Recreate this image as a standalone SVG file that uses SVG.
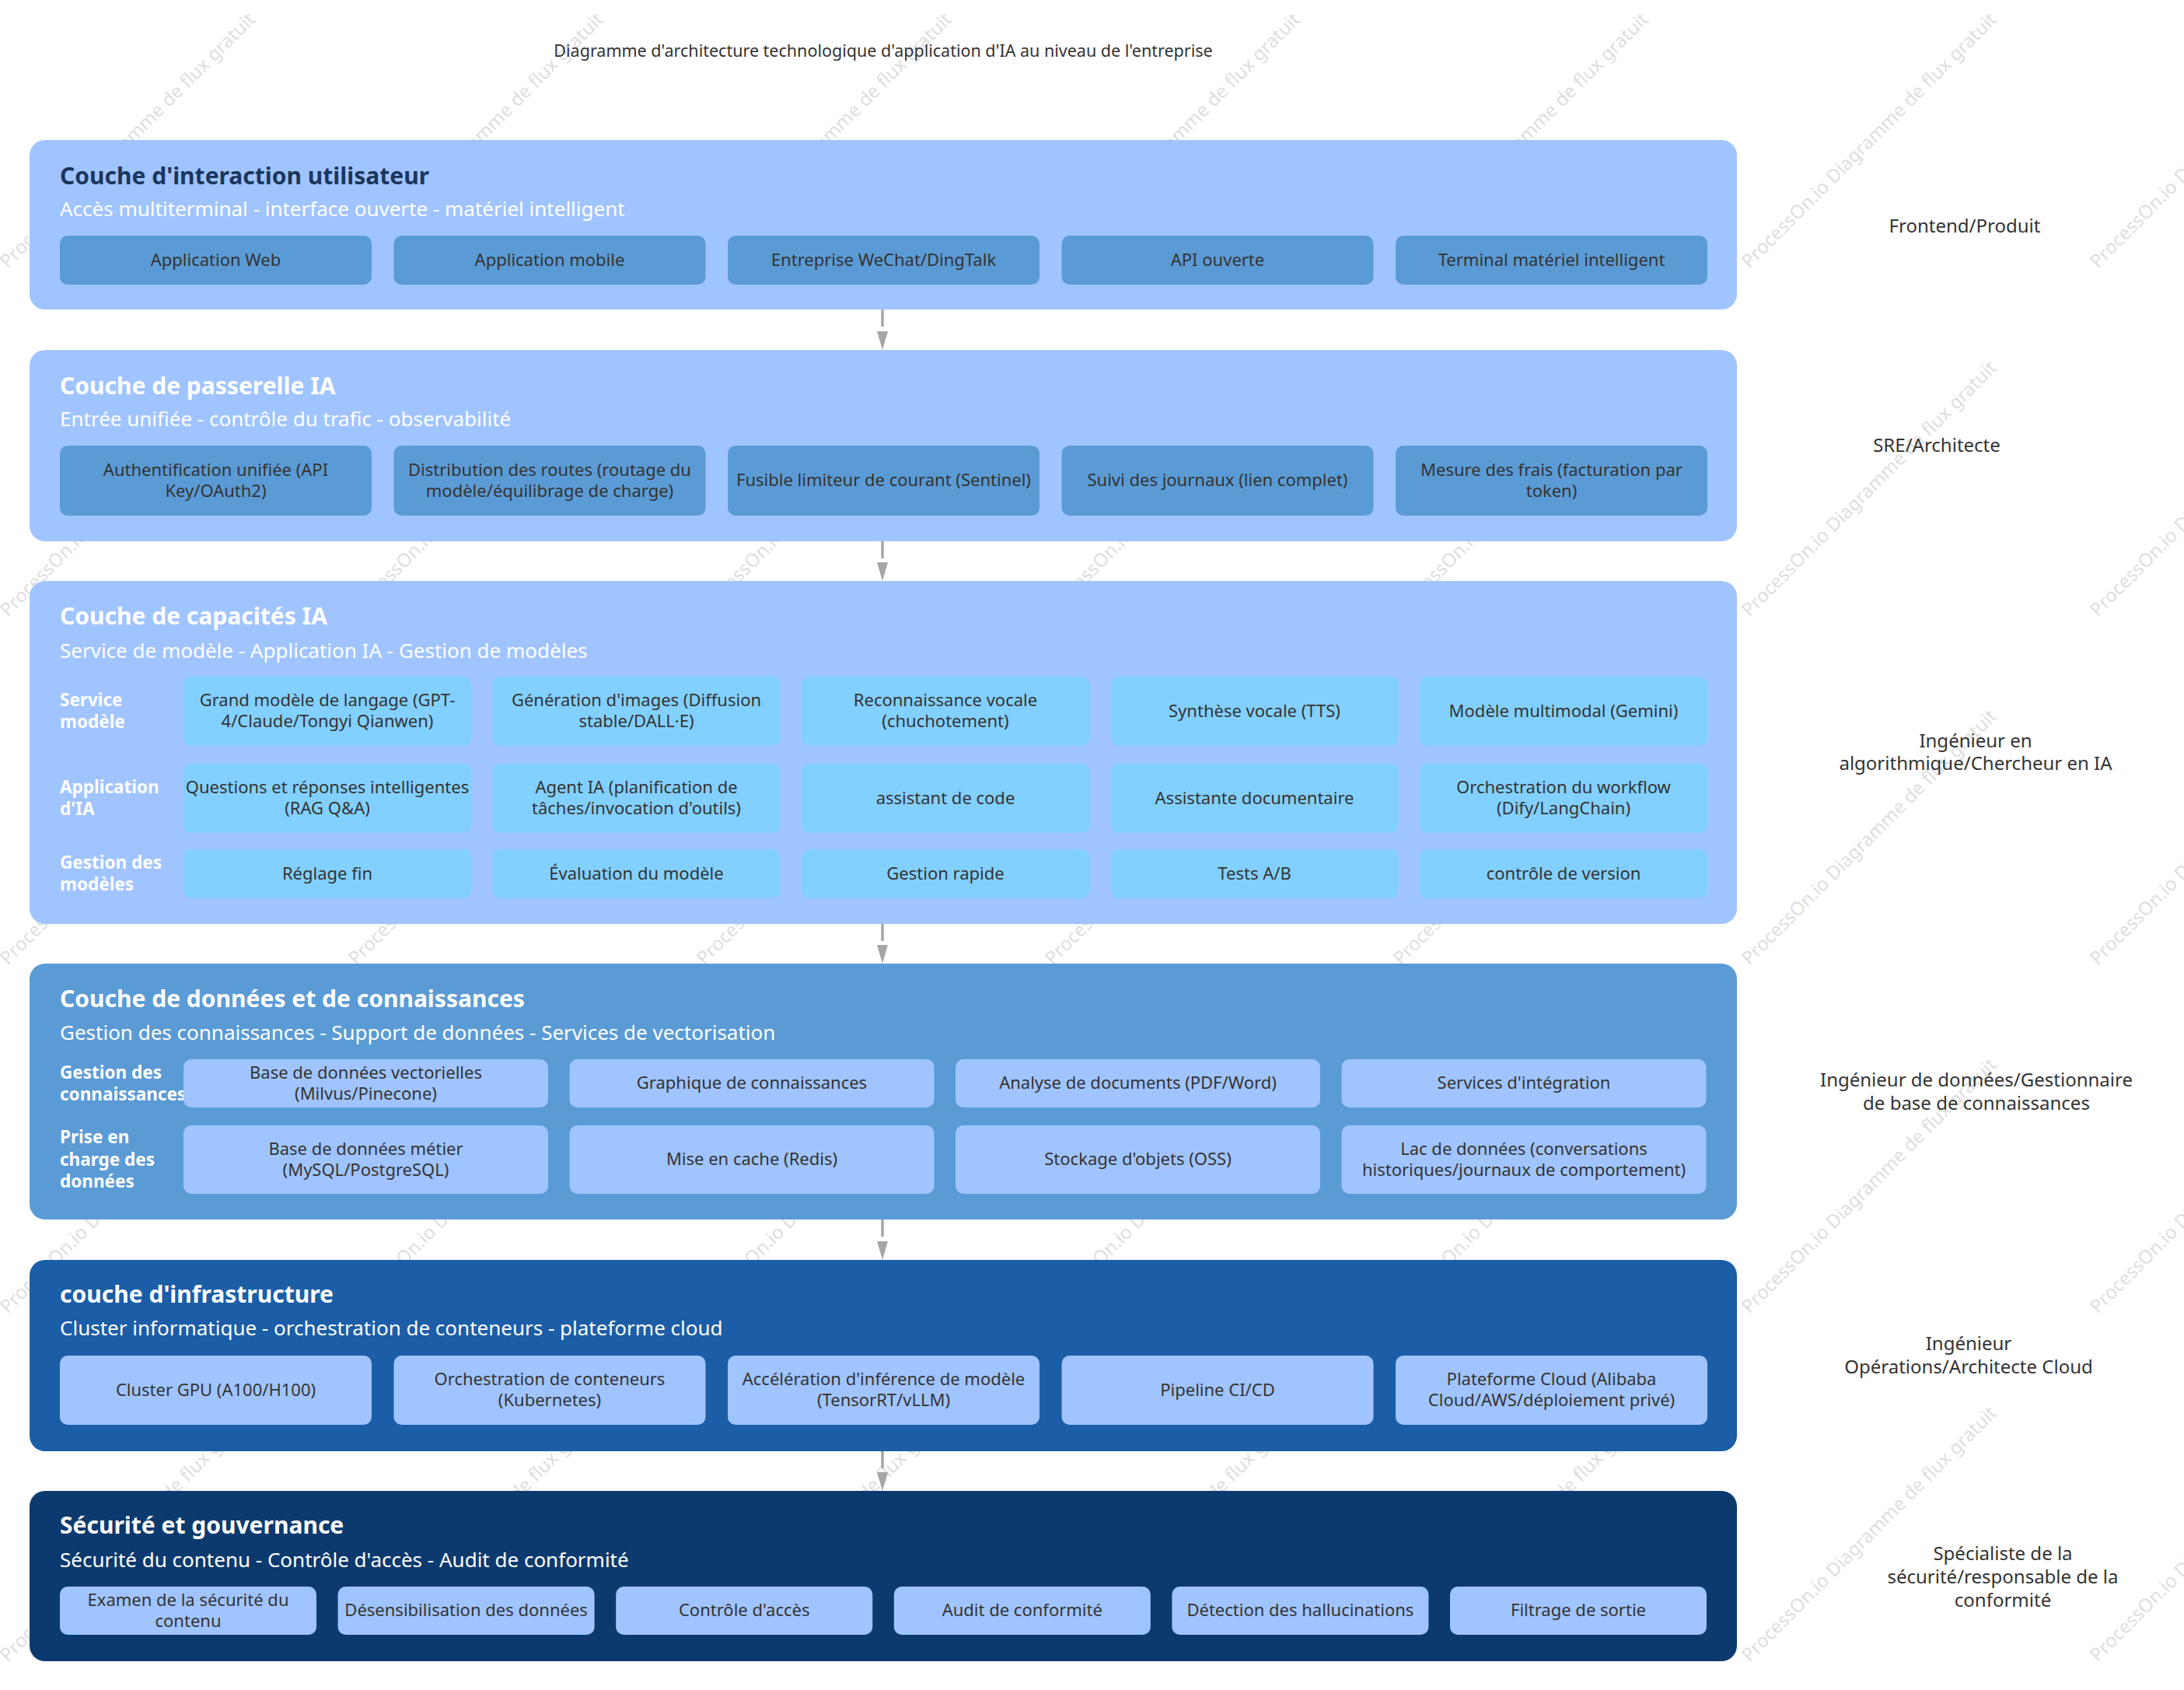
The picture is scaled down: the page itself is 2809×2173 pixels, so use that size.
<svg xmlns="http://www.w3.org/2000/svg" width="2809" height="2173" viewBox="0 0 2809 2173">
<style>
text{font-family:"Noto Sans","Open Sans","DejaVu Sans",sans-serif}
.wm{font-size:24px;fill:#dedede}
.ttl{font-size:21.5px;fill:#333;text-anchor:middle}
.lt{font-size:30px;font-weight:700;fill:#fff}
.ls{font-size:26px;fill:#fff}
.bt{font-size:22px;fill:#333;text-anchor:middle}
.rl{font-size:22.5px;font-weight:700;fill:#fff}
.role{font-size:24px;fill:#333;text-anchor:middle}
.L1{fill:#a0c4ff}
.L4{fill:#5b9bd5}
.L5{fill:#1b5ea7}
.L6{fill:#0d3a6e}
.bD{fill:#5b9bd5}
.bC{fill:#82d0ff}
.bL{fill:#a0c4ff}
.conn{stroke:#a6a6a6;stroke-width:3.5;fill:none}
</style>
<defs>
<marker id="ah" viewBox="0 -7 24 14" refX="0" refY="0" markerWidth="24" markerHeight="14" markerUnits="userSpaceOnUse" orient="auto">
<path d="M0,-7 L24,0 L0,7 z" fill="#a6a6a6"/>
</marker>
</defs>
<rect width="2809" height="2173" fill="#fff"/>
<g id="watermarks">
<text class="wm" transform="translate(10,346) rotate(-45)">ProcessOn.io Diagramme de flux gratuit</text>
<text class="wm" transform="translate(458,346) rotate(-45)">ProcessOn.io Diagramme de flux gratuit</text>
<text class="wm" transform="translate(906,346) rotate(-45)">ProcessOn.io Diagramme de flux gratuit</text>
<text class="wm" transform="translate(1354,346) rotate(-45)">ProcessOn.io Diagramme de flux gratuit</text>
<text class="wm" transform="translate(1802,346) rotate(-45)">ProcessOn.io Diagramme de flux gratuit</text>
<text class="wm" transform="translate(2250,346) rotate(-45)">ProcessOn.io Diagramme de flux gratuit</text>
<text class="wm" transform="translate(2698,346) rotate(-45)">ProcessOn.io Diagramme de flux gratuit</text>
<text class="wm" transform="translate(10,794) rotate(-45)">ProcessOn.io Diagramme de flux gratuit</text>
<text class="wm" transform="translate(458,794) rotate(-45)">ProcessOn.io Diagramme de flux gratuit</text>
<text class="wm" transform="translate(906,794) rotate(-45)">ProcessOn.io Diagramme de flux gratuit</text>
<text class="wm" transform="translate(1354,794) rotate(-45)">ProcessOn.io Diagramme de flux gratuit</text>
<text class="wm" transform="translate(1802,794) rotate(-45)">ProcessOn.io Diagramme de flux gratuit</text>
<text class="wm" transform="translate(2250,794) rotate(-45)">ProcessOn.io Diagramme de flux gratuit</text>
<text class="wm" transform="translate(2698,794) rotate(-45)">ProcessOn.io Diagramme de flux gratuit</text>
<text class="wm" transform="translate(10,1242) rotate(-45)">ProcessOn.io Diagramme de flux gratuit</text>
<text class="wm" transform="translate(458,1242) rotate(-45)">ProcessOn.io Diagramme de flux gratuit</text>
<text class="wm" transform="translate(906,1242) rotate(-45)">ProcessOn.io Diagramme de flux gratuit</text>
<text class="wm" transform="translate(1354,1242) rotate(-45)">ProcessOn.io Diagramme de flux gratuit</text>
<text class="wm" transform="translate(1802,1242) rotate(-45)">ProcessOn.io Diagramme de flux gratuit</text>
<text class="wm" transform="translate(2250,1242) rotate(-45)">ProcessOn.io Diagramme de flux gratuit</text>
<text class="wm" transform="translate(2698,1242) rotate(-45)">ProcessOn.io Diagramme de flux gratuit</text>
<text class="wm" transform="translate(10,1690) rotate(-45)">ProcessOn.io Diagramme de flux gratuit</text>
<text class="wm" transform="translate(458,1690) rotate(-45)">ProcessOn.io Diagramme de flux gratuit</text>
<text class="wm" transform="translate(906,1690) rotate(-45)">ProcessOn.io Diagramme de flux gratuit</text>
<text class="wm" transform="translate(1354,1690) rotate(-45)">ProcessOn.io Diagramme de flux gratuit</text>
<text class="wm" transform="translate(1802,1690) rotate(-45)">ProcessOn.io Diagramme de flux gratuit</text>
<text class="wm" transform="translate(2250,1690) rotate(-45)">ProcessOn.io Diagramme de flux gratuit</text>
<text class="wm" transform="translate(2698,1690) rotate(-45)">ProcessOn.io Diagramme de flux gratuit</text>
<text class="wm" transform="translate(10,2138) rotate(-45)">ProcessOn.io Diagramme de flux gratuit</text>
<text class="wm" transform="translate(458,2138) rotate(-45)">ProcessOn.io Diagramme de flux gratuit</text>
<text class="wm" transform="translate(906,2138) rotate(-45)">ProcessOn.io Diagramme de flux gratuit</text>
<text class="wm" transform="translate(1354,2138) rotate(-45)">ProcessOn.io Diagramme de flux gratuit</text>
<text class="wm" transform="translate(1802,2138) rotate(-45)">ProcessOn.io Diagramme de flux gratuit</text>
<text class="wm" transform="translate(2250,2138) rotate(-45)">ProcessOn.io Diagramme de flux gratuit</text>
<text class="wm" transform="translate(2698,2138) rotate(-45)">ProcessOn.io Diagramme de flux gratuit</text>
</g>
<text id="title" class="ttl" x="1136" y="73">Diagramme d'architecture technologique d'application d'IA au niveau de l'entreprise</text>

<g id="connectors">
<line class="conn" x1="1135" y1="398" x2="1135" y2="426" stroke-dasharray="22 100" marker-end="url(#ah)"/>
<line class="conn" x1="1135" y1="696" x2="1135" y2="723" stroke-dasharray="22 100" marker-end="url(#ah)"/>
<line class="conn" x1="1135" y1="1188" x2="1135" y2="1215" stroke-dasharray="22 100" marker-end="url(#ah)"/>
<line class="conn" x1="1135" y1="1568" x2="1135" y2="1596" stroke-dasharray="22 100" marker-end="url(#ah)"/>
<line class="conn" x1="1135" y1="1866" x2="1135" y2="1893" stroke-dasharray="22 100" marker-end="url(#ah)"/>
</g>

<g id="layer-user">
<rect class="L1" x="38" y="180" width="2196" height="218" rx="20"/>
<text class="lt" x="77" y="237" style="fill:#1b365c">Couche d'interaction utilisateur</text>
<text class="ls" x="77" y="278">Accès multiterminal - interface ouverte - matériel intelligent</text>
<g id="u1"><rect class="bD" x="77" y="303" width="401" height="63" rx="10"/><text class="bt" x="277.5" y="342">Application Web</text></g>
<g id="u2"><rect class="bD" x="506.5" y="303" width="401" height="63" rx="10"/><text class="bt" x="707" y="342">Application mobile</text></g>
<g id="u3"><rect class="bD" x="936" y="303" width="401" height="63" rx="10"/><text class="bt" x="1136.5" y="342">Entreprise WeChat/DingTalk</text></g>
<g id="u4"><rect class="bD" x="1365.5" y="303" width="401" height="63" rx="10"/><text class="bt" x="1566" y="342">API ouverte</text></g>
<g id="u5"><rect class="bD" x="1795" y="303" width="401" height="63" rx="10"/><text class="bt" x="1995.5" y="342">Terminal matériel intelligent</text></g>
</g>

<g id="layer-gateway">
<rect class="L1" x="38" y="450" width="2196" height="246" rx="20"/>
<text class="lt" x="77" y="507">Couche de passerelle IA</text>
<text class="ls" x="77" y="548">Entrée unifiée - contrôle du trafic - observabilité</text>
<g id="g1"><rect class="bD" x="77" y="573" width="401" height="90" rx="10"/><text class="bt" x="277.5" y="611.5">Authentification unifiée (API<tspan x="277.5" y="638.5">Key/OAuth2)</tspan></text></g>
<g id="g2"><rect class="bD" x="506.5" y="573" width="401" height="90" rx="10"/><text class="bt" x="707" y="611.5">Distribution des routes (routage du<tspan x="707" y="638.5">modèle/équilibrage de charge)</tspan></text></g>
<g id="g3"><rect class="bD" x="936" y="573" width="401" height="90" rx="10"/><text class="bt" x="1136.5" y="625">Fusible limiteur de courant (Sentinel)</text></g>
<g id="g4"><rect class="bD" x="1365.5" y="573" width="401" height="90" rx="10"/><text class="bt" x="1566" y="625">Suivi des journaux (lien complet)</text></g>
<g id="g5"><rect class="bD" x="1795" y="573" width="401" height="90" rx="10"/><text class="bt" x="1995.5" y="611.5">Mesure des frais (facturation par<tspan x="1995.5" y="638.5">token)</tspan></text></g>
</g>

<g id="layer-ai">
<rect class="L1" x="38" y="747" width="2196" height="441" rx="20"/>
<text class="lt" x="77" y="803">Couche de capacités IA</text>
<text class="ls" x="77" y="846">Service de modèle - Application IA - Gestion de modèles</text>
<text class="rl" x="77" y="908">Service<tspan x="77" y="936">modèle</tspan></text>
<text class="rl" x="77" y="1020">Application<tspan x="77" y="1048">d'IA</tspan></text>
<text class="rl" x="77" y="1117">Gestion des<tspan x="77" y="1145">modèles</tspan></text>
<g id="a11"><rect class="bC" x="236" y="870" width="370" height="89" rx="10"/><text class="bt" x="421" y="908">Grand modèle de langage (GPT-<tspan x="421" y="935">4/Claude/Tongyi Qianwen)</tspan></text></g>
<g id="a12"><rect class="bC" x="633.5" y="870" width="370" height="89" rx="10"/><text class="bt" x="818.5" y="908">Génération d'images (Diffusion<tspan x="818.5" y="935">stable/DALL·E)</tspan></text></g>
<g id="a13"><rect class="bC" x="1031" y="870" width="370" height="89" rx="10"/><text class="bt" x="1216" y="908">Reconnaissance vocale<tspan x="1216" y="935">(chuchotement)</tspan></text></g>
<g id="a14"><rect class="bC" x="1428.5" y="870" width="370" height="89" rx="10"/><text class="bt" x="1613.5" y="922">Synthèse vocale (TTS)</text></g>
<g id="a15"><rect class="bC" x="1826" y="870" width="370" height="89" rx="10"/><text class="bt" x="2011" y="922">Modèle multimodal (Gemini)</text></g>
<g id="a21"><rect class="bC" x="236" y="982" width="370" height="89" rx="10"/><text class="bt" x="421" y="1020">Questions et réponses intelligentes<tspan x="421" y="1047">(RAG Q&amp;A)</tspan></text></g>
<g id="a22"><rect class="bC" x="633.5" y="982" width="370" height="89" rx="10"/><text class="bt" x="818.5" y="1020">Agent IA (planification de<tspan x="818.5" y="1047">tâches/invocation d'outils)</tspan></text></g>
<g id="a23"><rect class="bC" x="1031" y="982" width="370" height="89" rx="10"/><text class="bt" x="1216" y="1034">assistant de code</text></g>
<g id="a24"><rect class="bC" x="1428.5" y="982" width="370" height="89" rx="10"/><text class="bt" x="1613.5" y="1034">Assistante documentaire</text></g>
<g id="a25"><rect class="bC" x="1826" y="982" width="370" height="89" rx="10"/><text class="bt" x="2011" y="1020">Orchestration du workflow<tspan x="2011" y="1047">(Dify/LangChain)</tspan></text></g>
<g id="a31"><rect class="bC" x="236" y="1092" width="370" height="63" rx="10"/><text class="bt" x="421" y="1131">Réglage fin</text></g>
<g id="a32"><rect class="bC" x="633.5" y="1092" width="370" height="63" rx="10"/><text class="bt" x="818.5" y="1131">Évaluation du modèle</text></g>
<g id="a33"><rect class="bC" x="1031" y="1092" width="370" height="63" rx="10"/><text class="bt" x="1216" y="1131">Gestion rapide</text></g>
<g id="a34"><rect class="bC" x="1428.5" y="1092" width="370" height="63" rx="10"/><text class="bt" x="1613.5" y="1131">Tests A/B</text></g>
<g id="a35"><rect class="bC" x="1826" y="1092" width="370" height="63" rx="10"/><text class="bt" x="2011" y="1131">contrôle de version</text></g>
</g>

<g id="layer-data">
<rect class="L4" x="38" y="1239" width="2196" height="329" rx="20"/>
<text class="lt" x="77" y="1295">Couche de données et de connaissances</text>
<text class="ls" x="77" y="1337">Gestion des connaissances - Support de données - Services de vectorisation</text>
<text class="rl" x="77" y="1387">Gestion des<tspan x="77" y="1415">connaissances</tspan></text>
<text class="rl" x="77" y="1470">Prise en<tspan x="77" y="1499">charge des</tspan><tspan x="77" y="1527">données</tspan></text>
<g id="d11"><rect class="bL" x="236" y="1362" width="469" height="62" rx="10"/><text class="bt" x="470.5" y="1386.5">Base de données vectorielles<tspan x="470.5" y="1413.5">(Milvus/Pinecone)</tspan></text></g>
<g id="d12"><rect class="bL" x="732.5" y="1362" width="469" height="62" rx="10"/><text class="bt" x="967" y="1400">Graphique de connaissances</text></g>
<g id="d13"><rect class="bL" x="1229" y="1362" width="469" height="62" rx="10"/><text class="bt" x="1463.5" y="1400">Analyse de documents (PDF/Word)</text></g>
<g id="d14"><rect class="bL" x="1725.5" y="1362" width="469" height="62" rx="10"/><text class="bt" x="1960" y="1400">Services d'intégration</text></g>
<g id="d21"><rect class="bL" x="236" y="1447" width="469" height="88" rx="10"/><text class="bt" x="470.5" y="1484.5">Base de données métier<tspan x="470.5" y="1511.5">(MySQL/PostgreSQL)</tspan></text></g>
<g id="d22"><rect class="bL" x="732.5" y="1447" width="469" height="88" rx="10"/><text class="bt" x="967" y="1498">Mise en cache (Redis)</text></g>
<g id="d23"><rect class="bL" x="1229" y="1447" width="469" height="88" rx="10"/><text class="bt" x="1463.5" y="1498">Stockage d'objets (OSS)</text></g>
<g id="d24"><rect class="bL" x="1725.5" y="1447" width="469" height="88" rx="10"/><text class="bt" x="1960" y="1484.5">Lac de données (conversations<tspan x="1960" y="1511.5">historiques/journaux de comportement)</tspan></text></g>
</g>

<g id="layer-infra">
<rect class="L5" x="38" y="1620" width="2196" height="246" rx="20"/>
<text class="lt" x="77" y="1675">couche d'infrastructure</text>
<text class="ls" x="77" y="1717">Cluster informatique - orchestration de conteneurs - plateforme cloud</text>
<g id="i1"><rect class="bL" x="77" y="1743" width="401" height="89" rx="10"/><text class="bt" x="277.5" y="1795">Cluster GPU (A100/H100)</text></g>
<g id="i2"><rect class="bL" x="506.5" y="1743" width="401" height="89" rx="10"/><text class="bt" x="707" y="1781">Orchestration de conteneurs<tspan x="707" y="1808">(Kubernetes)</tspan></text></g>
<g id="i3"><rect class="bL" x="936" y="1743" width="401" height="89" rx="10"/><text class="bt" x="1136.5" y="1781">Accélération d'inférence de modèle<tspan x="1136.5" y="1808">(TensorRT/vLLM)</tspan></text></g>
<g id="i4"><rect class="bL" x="1365.5" y="1743" width="401" height="89" rx="10"/><text class="bt" x="1566" y="1795">Pipeline CI/CD</text></g>
<g id="i5"><rect class="bL" x="1795" y="1743" width="401" height="89" rx="10"/><text class="bt" x="1995.5" y="1781">Plateforme Cloud (Alibaba<tspan x="1995.5" y="1808">Cloud/AWS/déploiement privé)</tspan></text></g>
</g>

<g id="layer-security">
<rect class="L6" x="38" y="1917" width="2196" height="219" rx="20"/>
<text class="lt" x="77" y="1972">Sécurité et gouvernance</text>
<text class="ls" x="77" y="2015">Sécurité du contenu - Contrôle d'accès - Audit de conformité</text>
<g id="s1"><rect class="bL" x="77" y="2040" width="330" height="62" rx="10"/><text class="bt" x="242" y="2064.5">Examen de la sécurité du<tspan x="242" y="2091.5">contenu</tspan></text></g>
<g id="s2"><rect class="bL" x="434.6" y="2040" width="330" height="62" rx="10"/><text class="bt" x="599.6" y="2078">Désensibilisation des données</text></g>
<g id="s3"><rect class="bL" x="792.2" y="2040" width="330" height="62" rx="10"/><text class="bt" x="957.2" y="2078">Contrôle d'accès</text></g>
<g id="s4"><rect class="bL" x="1149.8" y="2040" width="330" height="62" rx="10"/><text class="bt" x="1314.8" y="2078">Audit de conformité</text></g>
<g id="s5"><rect class="bL" x="1507.4" y="2040" width="330" height="62" rx="10"/><text class="bt" x="1672.4" y="2078">Détection des hallucinations</text></g>
<g id="s6"><rect class="bL" x="1865" y="2040" width="330" height="62" rx="10"/><text class="bt" x="2030" y="2078">Filtrage de sortie</text></g>
</g>

<g id="roles">
<text id="r1" class="role" x="2527" y="299">Frontend/Produit</text>
<text id="r2" class="role" x="2491" y="581">SRE/Architecte</text>
<text id="r3" class="role" x="2541" y="961">Ingénieur en<tspan x="2541" y="990">algorithmique/Chercheur en IA</tspan></text>
<text id="r4" class="role" x="2542" y="1397">Ingénieur de données/Gestionnaire<tspan x="2542" y="1427">de base de connaissances</tspan></text>
<text id="r5" class="role" x="2532" y="1736">Ingénieur<tspan x="2532" y="1766">Opérations/Architecte Cloud</tspan></text>
<text id="r6" class="role" x="2576" y="2006">Spécialiste de la<tspan x="2576" y="2036">sécurité/responsable de la</tspan><tspan x="2576" y="2066">conformité</tspan></text>
</g>
</svg>
